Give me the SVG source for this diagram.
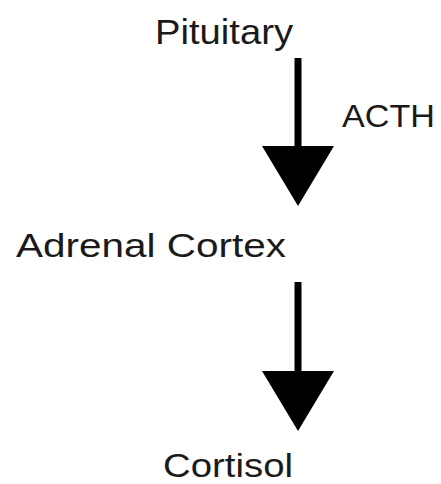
<svg xmlns="http://www.w3.org/2000/svg" width="441" height="484" viewBox="0 0 441 484">
  <style>
    .lbl { font-family: "Liberation Sans", Arial, sans-serif; fill: #1a1a1a; }
    .conn { stroke: #000; stroke-width: 7; fill: none; }
  </style>
  <defs>
    <marker id="head" markerUnits="userSpaceOnUse" markerWidth="62" markerHeight="74" viewBox="0 -37 62 74" refX="0" refY="0" orient="auto" overflow="visible">
      <path d="M0,-36 L60,0 L0,36 Z" fill="#000"/>
    </marker>
  </defs>
  <rect width="441" height="484" fill="#fff"/>
  <g id="pituitary">
    <text class="lbl" x="155" y="44" font-size="35" textLength="138" lengthAdjust="spacingAndGlyphs">Pituitary</text>
  </g>
  <g id="adrenal-cortex">
    <text class="lbl" x="16" y="257" font-size="33" textLength="270" lengthAdjust="spacingAndGlyphs">Adrenal Cortex</text>
  </g>
  <g id="cortisol">
    <text class="lbl" x="163" y="477" font-size="33" textLength="130" lengthAdjust="spacingAndGlyphs">Cortisol</text>
  </g>
  <g id="connectors">
    <path class="conn" d="M298,58 L298,146" marker-end="url(#head)"/>
    <text class="lbl" x="342" y="127" font-size="32" textLength="93" lengthAdjust="spacingAndGlyphs">ACTH</text>
    <path class="conn" d="M298,282 L298,371" marker-end="url(#head)"/>
  </g>
</svg>
